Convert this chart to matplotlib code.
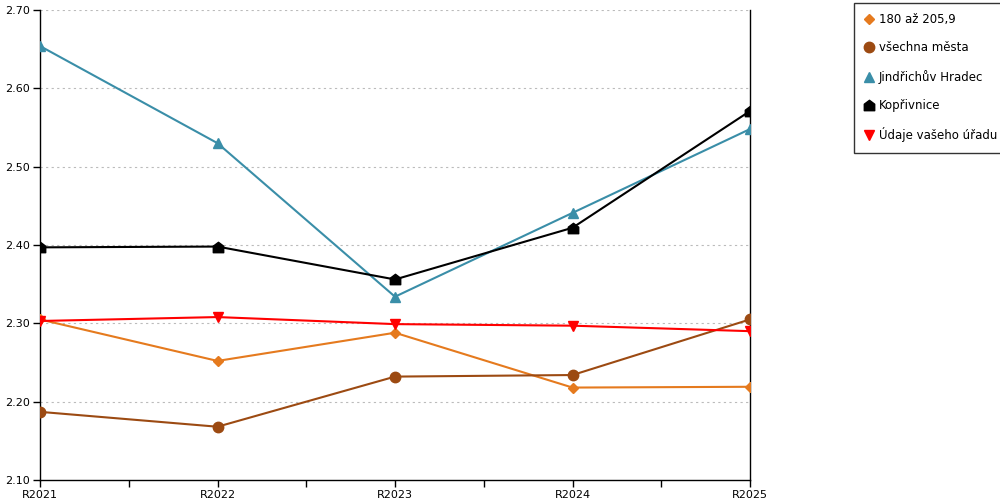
import matplotlib.pyplot as plt
from matplotlib.lines import Line2D
from matplotlib.path import Path
import numpy as np

plt.rcParams['font.family'] = ['DejaVu Sans']

years = ['R2021', 'R2022', 'R2023', 'R2024', 'R2025']

# series values
v_180 = [2.305, 2.252, 2.288, 2.218, 2.219]
v_vsechna = [2.187, 2.168, 2.232, 2.234, 2.305]
v_jh = [2.654, 2.530, 2.334, 2.441, 2.548]
v_kopr = [2.397, 2.398, 2.356, 2.422, 2.571]
v_urad = [2.303, 2.308, 2.299, 2.297, 2.290]

names = ['180 až 205,9', 'všechna města', 'Jindřichův Hradec', 'Kopřivnice', 'Údaje vašeho úřadu']

# house shaped marker for Kopřivnice
house = Path([(-1, -1), (1, -1), (1, 0.25), (0, 1), (-1, 0.25), (-1, -1)],
             [Path.MOVETO, Path.LINETO, Path.LINETO, Path.LINETO, Path.LINETO, Path.CLOSEPOLY])

styles = [
    (v_180, '#e57a1e', 'D', 5.5),
    (v_vsechna, '#9c4a12', 'o', 7.5),
    (v_jh, '#3a8ea8', '^', 7.5),
    (v_kopr, '#000000', house, 7.5),
    (v_urad, '#ff0000', 'v', 7.5),
]

fig = plt.figure(figsize=(10, 5), dpi=100)
ax = fig.add_axes([0.04, 0.04, 0.71, 0.94])

x = np.arange(len(years))
handles = []
for (vals, col, mk, ms), name in zip(styles, names):
    ax.plot(x, vals, color=col, linewidth=1.5, marker=mk, markersize=ms,
            markerfacecolor=col, markeredgecolor=col, zorder=3)
    handles.append(Line2D([], [], color=col, marker=mk, markersize=ms, linestyle='none',
                          markerfacecolor=col, markeredgecolor=col))

ax.set_xlim(0, 4)
ax.set_ylim(2.10, 2.70)
ax.set_yticks(np.arange(2.10, 2.701, 0.10))
ax.set_yticklabels([f'{v:.2f}' for v in np.arange(2.10, 2.701, 0.10)])
ax.set_xticks(x)
ax.set_xticklabels(years)
ax.set_xticks(np.arange(0.5, 4, 1), minor=True)
ax.tick_params(axis='both', which='both', labelsize=8, length=5, width=1, color='black', pad=2)
ax.tick_params(axis='x', which='minor', length=5)

for yv in np.arange(2.20, 2.701, 0.10):
    ax.axhline(yv, color='#bbbbbb', linestyle=(0, (2, 3)), linewidth=0.8, zorder=1)

ax.spines['top'].set_visible(False)
for s in ['left', 'right', 'bottom']:
    ax.spines[s].set_color('black')
    ax.spines[s].set_linewidth(1)

leg = fig.legend(handles, names, loc='upper left', bbox_to_anchor=(0.854, 0.995),
                 fontsize=8.5, frameon=True, fancybox=False, edgecolor='black',
                 handlelength=0.8, handletextpad=0.4, labelspacing=1.3,
                 borderpad=0.9, borderaxespad=0)
leg.get_frame().set_linewidth(1)

fig.savefig('out.png', dpi=100)
